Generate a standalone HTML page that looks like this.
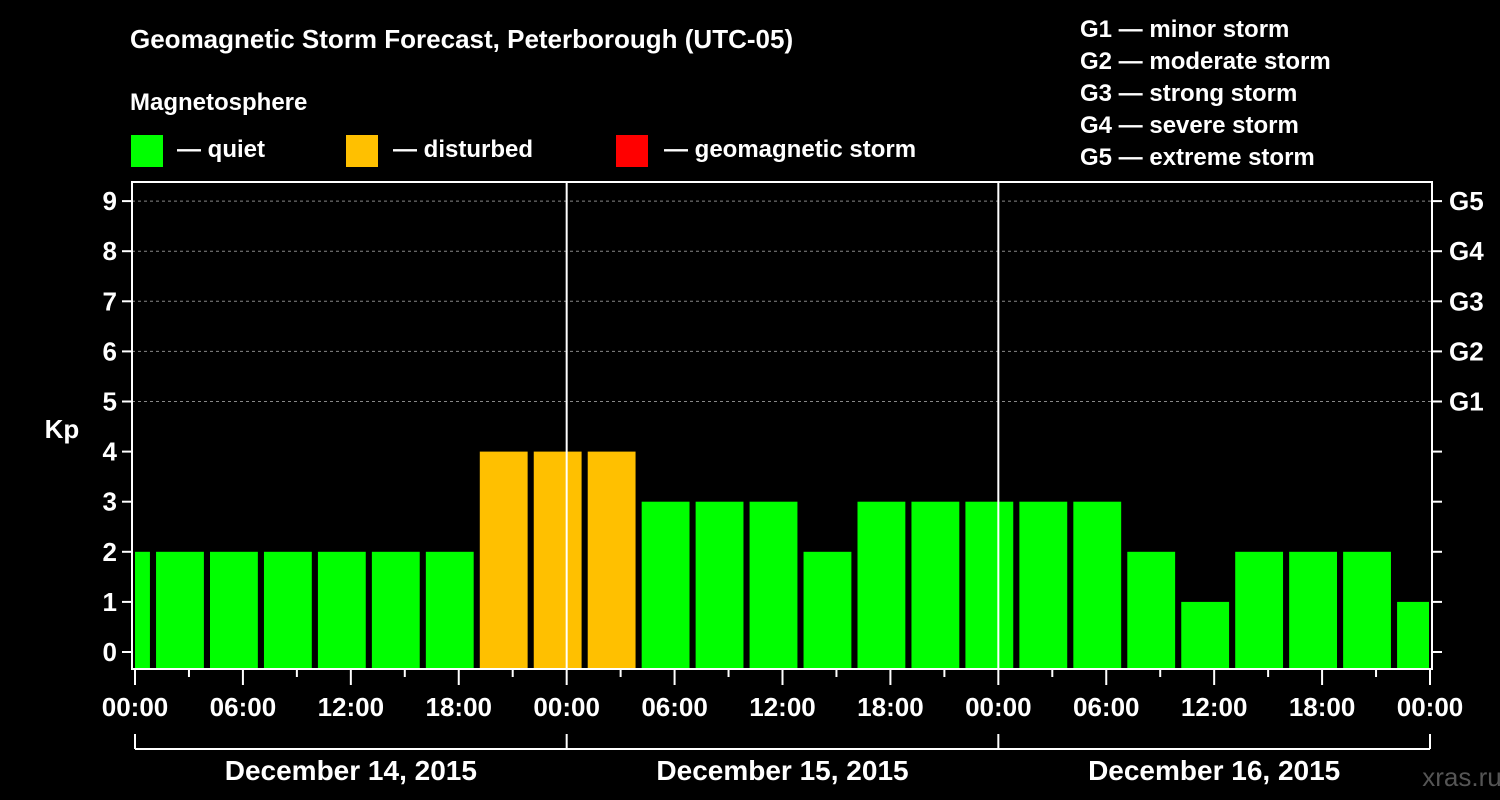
<!DOCTYPE html>
<html><head><meta charset="utf-8"><style>
body{margin:0;background:#000}
svg{display:block;font-family:"Liberation Sans",Arial,sans-serif;font-weight:bold}
</style></head><body>
<svg id="c" width="1500" height="800" xmlns="http://www.w3.org/2000/svg">
<rect width="1500" height="800" fill="#000"/>
<text x="130" y="48" font-size="26" fill="#fff">Geomagnetic Storm Forecast, Peterborough (UTC-05)</text>
<text x="130" y="110" font-size="24" fill="#fff">Magnetosphere</text>
<g><rect x="131" y="135" width="32" height="32" fill="#00ff00"/><text x="177" y="157" font-size="24" fill="#fff">— quiet</text></g>
<g><rect x="346" y="135" width="32" height="32" fill="#ffc000"/><text x="393" y="157" font-size="24" fill="#fff">— disturbed</text></g>
<g><rect x="616" y="135" width="32" height="32" fill="#ff0000"/><text x="664" y="157" font-size="24" fill="#fff">— geomagnetic storm</text></g>
<g font-size="24" fill="#fff">
<text x="1080" y="37">G1 — minor storm</text><text x="1080" y="69">G2 — moderate storm</text><text x="1080" y="101">G3 — strong storm</text><text x="1080" y="133">G4 — severe storm</text><text x="1080" y="165">G5 — extreme storm</text></g>
<g id="plot"></g>
<text x="62" y="438" font-size="26" fill="#fff" text-anchor="middle">Kp</text>
<text x="1462" y="786" font-size="26" fill="#555" text-anchor="middle" font-weight="normal">xras.ru</text>
</svg>
<script>
const kpValues=[2,2,2,2,2,2,2,4,4,4,3,3,3,2,3,3,3,3,3,2,1,2,2,2,1];
const barCenterHours=[-0.5,2.5,5.5,8.5,11.5,14.5,17.5,20.5,23.5,26.5,29.5,32.5,35.5,38.5,41.5,44.5,47.5,50.5,53.5,56.5,59.5,62.5,65.5,68.5,71.5];
const yTicks=[0,1,2,3,4,5,6,7,8,9];
const gLabels=["G1","G2","G3","G4","G5"];
const xTickLabels=["00:00","06:00","12:00","18:00","00:00","06:00","12:00","18:00","00:00","06:00","12:00","18:00","00:00"];
const dayLabels=["December 14, 2015","December 15, 2015","December 16, 2015"];
const NS="http://www.w3.org/2000/svg";
const X0=135,XW=1295/72,Y0=652,YU=50.1,L=132,R=1432,T=182,B=669;
const xs=h=>X0+h*XW, ys=v=>Y0-v*YU;
const g=document.getElementById('plot');
function mk(t,a,p){const e=document.createElementNS(NS,t);for(const k in a)e.setAttribute(k,a[k]);(p||g).appendChild(e);return e;}
// grid
for(let v=5;v<=9;v++){const e=mk('line',{x1:L,x2:R,y1:ys(v),y2:ys(v),stroke:'#888','stroke-dasharray':'3,3','stroke-width':1});

}
// bars
kpValues.forEach((v,i)=>{let x1=Math.max(xs(barCenterHours[i]-1.33),L+3),x2=Math.min(xs(barCenterHours[i]+1.33),R-3);
const e=mk('rect',{x:x1,y:ys(v),width:x2-x1,height:B-ys(v),fill:v>=5?'#ff0000':v>=4?'#ffc000':'#00ff00'});

});
// day separators
[24,48].forEach(h=>{const e=mk('line',{x1:xs(h),x2:xs(h),y1:T,y2:B,stroke:'#fff','stroke-width':2});

});
const fr=mk('rect',{x:L,y:T,width:R-L,height:B-T,fill:'none',stroke:'#fff','stroke-width':2});


yTicks.forEach(v=>{mk('line',{x1:L-10,x2:L,y1:ys(v),y2:ys(v),stroke:'#fff','stroke-width':2});
mk('line',{x1:R,x2:R+10,y1:ys(v),y2:ys(v),stroke:'#fff','stroke-width':2});
const t=mk('text',{x:L-15,y:ys(v)+9,'font-size':26,fill:'#fff','text-anchor':'end'});t.textContent=v;

});
gLabels.forEach((s,i)=>{const t=mk('text',{x:1449,y:ys(5+i)+9,'font-size':26,fill:'#fff'});t.textContent=s;

});
for(let h=0;h<=72;h+=3){mk('line',{x1:xs(h),x2:xs(h),y1:B,y2:B+(h%6?8:16),stroke:'#fff','stroke-width':2});}
xTickLabels.forEach((s,i)=>{const t=mk('text',{x:xs(i*6),y:716,'font-size':26,fill:'#fff','text-anchor':'middle'});t.textContent=s;

});
mk('line',{x1:xs(0),x2:xs(72),y1:749,y2:749,stroke:'#fff','stroke-width':2});
[0,24,48,72].forEach(h=>mk('line',{x1:xs(h),x2:xs(h),y1:734,y2:749,stroke:'#fff','stroke-width':2}));
dayLabels.forEach((s,i)=>{const t=mk('text',{x:xs(i*24+12),y:780,'font-size':28,fill:'#fff','text-anchor':'middle'});t.textContent=s;

});
</script>
</body></html>
